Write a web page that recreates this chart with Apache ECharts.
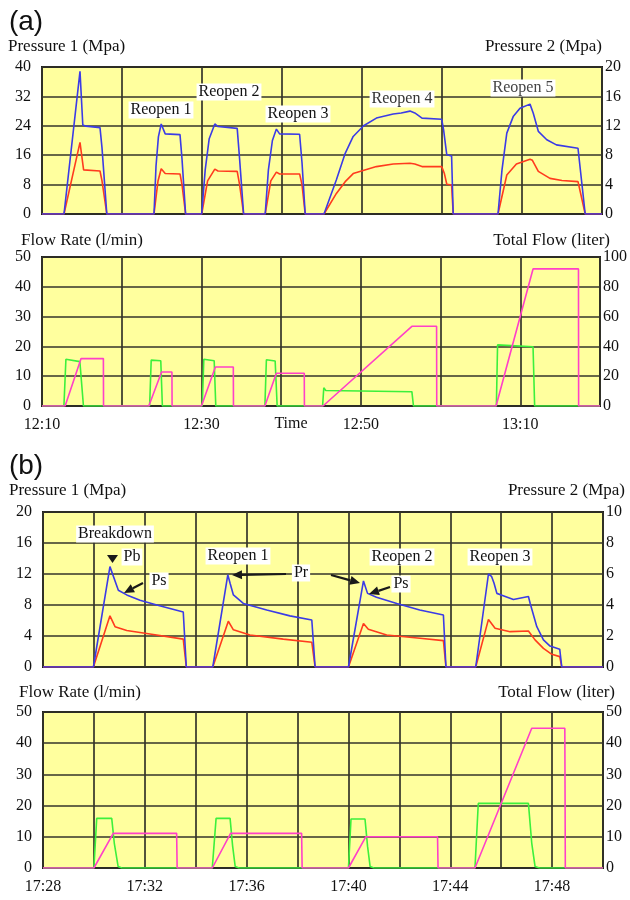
<!DOCTYPE html>
<html><head><meta charset="utf-8">
<script src="https://cdn.jsdelivr.net/npm/echarts@6/dist/echarts.min.js"></script>
<style>html,body{margin:0;padding:0;background:#fff}#c{width:630px;height:900px}</style>
</head><body><div id="c"></div>
<script>
// ---------- DATA (t = minutes from the first tick) ----------
// Panel (a) – time origin 12:10
const aTickMin = [0, 20, 40, 60];
const aTickText = ['12:10', '12:30', '12:50', '13:10'];
// Pressure 1 (blue, MPa, left axis)
const aPressure1 = [
[0,0],[2.75,0],[4.75,38.8],[5.1,24.2],[5.5,23.9],[7.25,23.5],[7.5,18],[8.1,0],
[14.0,0],[14.25,13],[14.55,21],[14.9,24.5],[15.4,21.8],[17.25,21.6],[17.5,15],[17.95,0],
[19.96,0],[20.4,12],[20.9,20.5],[21.6,24.5],[22.0,23.8],[24.4,23.3],[24.7,15],[25.2,0],
[27.9,0],[28.3,12],[28.8,20],[29.3,23.1],[29.7,21.8],[32.2,21.7],[32.5,14],[32.9,0],
[35.25,0],[36.8,9.3],[37.9,16.5],[38.9,21.1],[40.2,24],[41.8,26.1],[43.9,27.2],[44.9,27.5],[46,28],[46.6,27.5],[47.5,26.1],[49.96,25.8],[50.2,22.9],[50.6,16.1],[51.2,15.8],[51.4,0],
[57.0,0],[57.5,12],[58.1,22],[58.9,26.5],[59.75,28.8],[61,29.9],[61.4,27.5],[62.04,22.5],[63.1,20.2],[64.3,18.8],[67.0,17.9],[67.9,0],
[70,0]];
// Pressure 2 (red, MPa, right axis)
const aPressure2 = [
[0,0],[2.75,0],[4.75,9.75],[5.2,6.0],[7.25,5.85],[7.5,4.5],[8.1,0],
[14.0,0],[14.5,4.5],[14.9,6.15],[15.4,5.5],[17.25,5.45],[17.5,4],[17.95,0],
[19.96,0],[20.7,4.5],[21.6,6.1],[22.0,5.85],[24.4,5.8],[24.7,4],[25.2,0],
[27.9,0],[28.6,4.5],[29.3,5.7],[29.7,5.45],[32.2,5.45],[32.5,4],[32.9,0],
[35.25,0],[36.8,2.8],[37.9,4.4],[38.9,5.5],[41.8,6.45],[43.9,6.8],[46,6.9],[46.6,6.8],[47.5,6.45],[49.96,6.45],[50.3,5.5],[50.6,4.05],[51.2,3.95],[51.4,0],
[57.0,0],[58.1,5.3],[59.3,6.8],[61,7.45],[61.3,7.3],[62.04,5.8],[63.5,4.85],[65,4.55],[67.0,4.4],[67.9,0],
[70,0]];
// Flow rate (green, l/min, left axis)
const aFlowRate = [
[0,0],[2.75,0],[3.0,15.7],[4.75,14.9],[5.2,0],
[13.5,0],[13.7,15.4],[14.9,15.2],[15.1,0],
[20.1,0],[20.3,15.7],[21.6,15.2],[21.8,0],
[27.96,0],[28.15,15.5],[29.25,15.1],[29.5,0],
[35.2,0],[35.35,6.1],[35.6,5.2],[46.4,4.8],[46.6,0],
[57.0,0],[57.15,20.5],[61.6,19.9],[61.8,0],
[70,0]];
// Total flow (magenta, liter, right axis)
const aTotalFlow = [
[0,0],[2.9,0],[4.9,31.8],[7.7,31.8],[7.72,0],
[13.4,0],[15.0,22.8],[16.3,22.8],[16.32,0],
[20.0,0],[21.75,26.2],[24,26.2],[24.02,0],
[27.96,0],[29.4,22],[32.9,22],[32.92,0],
[35.25,0],[46.4,53.5],[49.5,53.5],[49.52,0],
[56.96,0],[61.6,92],[67.3,92],[67.32,0],
[70,0]];

// Panel (b) – time origin 17:28
const bTickMin = [0, 4, 8, 12, 16, 20];
const bTickText = ['17:28', '17:32', '17:36', '17:40', '17:44', '17:48'];
const bPressure1 = [
[0,0],[1.98,0],[2.63,12.95],[2.96,9.9],[3.29,9.3],[3.81,8.6],[4.47,8.0],[5.51,7.1],[5.63,0],
[6.67,0],[7.26,11.9],[7.35,10.8],[7.48,9.3],[7.87,8.2],[8.79,7.35],[9.7,6.6],[10.56,6.06],[10.69,0],
[12.0,0],[12.59,11.1],[12.75,9.5],[13.1,9.0],[13.9,8.2],[14.8,7.35],[15.73,6.7],[15.83,0],
[17.0,0],[17.5,12.0],[17.62,11.7],[17.72,10.8],[17.83,9.5],[18.0,9.3],[18.48,8.7],[19.07,9.1],[19.14,8.2],[19.4,5.2],[19.66,3.5],[19.92,2.7],[20.3,2.3],[20.38,0],
[22,0]];
const bPressure2 = [
[0,0],[1.98,0],[2.63,3.3],[2.83,2.6],[3.29,2.35],[4.2,2.13],[5.51,1.8],[5.63,0],
[6.67,0],[7.28,2.95],[7.48,2.4],[8.13,2.06],[9.44,1.8],[10.56,1.6],[10.69,0],
[12.0,0],[12.59,2.8],[12.78,2.43],[13.5,2.06],[14.81,1.85],[15.73,1.7],[15.83,0],
[17.0,0],[17.5,3.07],[17.76,2.5],[18.35,2.28],[19.07,2.32],[19.33,1.75],[19.66,1.2],[19.99,0.82],[20.3,0.67],[20.38,0],
[22,0]];
const bFlowRate = [
[0,0],[2.0,0],[2.11,15.9],[2.7,15.9],[2.8,8],[2.95,0.5],[3.1,0],
[6.65,0],[6.8,15.9],[7.35,15.9],[7.45,7],[7.55,0.5],[7.7,0],
[12.0,0],[12.1,15.7],[12.65,15.7],[12.75,7],[12.85,0.5],[13.0,0],
[16.97,0],[17.1,20.7],[19.07,20.7],[19.2,8],[19.33,0.5],[19.5,0],
[22,0]];
const bTotalFlow = [
[0,0],[2.0,0],[2.76,11.1],[5.25,11.1],[5.27,0],
[6.65,0],[7.37,11.1],[10.16,11.1],[10.18,0],
[12.0,0],[12.68,10.0],[15.5,10.0],[15.52,0],
[16.97,0],[19.2,44.8],[20.5,44.8],[20.52,0],
[22,0]];

// ---------- STYLE ----------
const SERIF = 'Liberation Serif';
const BLUE = '#3b3be6', RED = '#ff3b1e', GREEN = '#3cf03c', MAGENTA = '#ff40c8';
const BG = '#ffff9e';
const GRID_LINE = {show: true, lineStyle: {color: '#35352a', width: 1.7}};
const LBL = {fontFamily: SERIF, fontSize: 16, color: '#111'};

function xAx(gi, max, interval, ticks, texts) {
  return {type: 'value', gridIndex: gi, min: 0, max: max, interval: interval,
    axisLine: {show: false}, axisTick: {show: false}, splitLine: GRID_LINE,
    axisLabel: ticks ? Object.assign({margin: 11, showMinLabel: true, showMaxLabel: false, formatter: function (v) {
      const i = ticks.indexOf(Math.round(v * 1000) / 1000); return i >= 0 ? texts[i] : '';
    }}, LBL) : {show: false}};
}
function yAx(gi, max, interval, right) {
  return {type: 'value', gridIndex: gi, min: 0, max: max, interval: interval, position: right ? 'right' : 'left',
    axisLine: {show: false}, axisTick: {show: false}, splitLine: right ? {show: false} : GRID_LINE,
    axisLabel: Object.assign({margin: right ? 3 : 11}, LBL)};
}
function ln(name, data, xi, yi, color) {
  return {name: name, type: 'line', data: data, xAxisIndex: xi, yAxisIndex: yi, showSymbol: false, symbol: 'none',
    lineStyle: {color: color, width: 1.6}, itemStyle: {color: color}, animation: false, z: 5};
}
function txt(s, x, y, opt) {
  return {type: 'text', z: 100, style: Object.assign({text: s, x: x, y: y, fill: '#111', font: '16px "' + SERIF + '"',
    textAlign: 'center', textVerticalAlign: 'middle'}, opt || {})};
}
const TITLE = {font: '17px "' + SERIF + '"'};
function ttl(s, x, y, align) { return txt(s, x, y, Object.assign({textAlign: align}, TITLE)); }
function box(s, x, y, opt) {
  return txt(s, x, y, Object.assign({backgroundColor: '#fff', padding: [1, 2, 0, 2]}, opt || {}));
}
function arrow(x1, y1, x2, y2) {
  const a = Math.atan2(y2 - y1, x2 - x1), L = 10, W = 4.5;
  const bx = x2 - L * Math.cos(a), by = y2 - L * Math.sin(a);
  const px = -Math.sin(a) * W, py = Math.cos(a) * W;
  return [
    {type: 'line', z: 100, shape: {x1: x1, y1: y1, x2: bx, y2: by}, style: {stroke: '#1a1a1a', lineWidth: 2.2}},
    {type: 'polygon', z: 100, shape: {points: [[x2, y2], [bx + px, by + py], [bx - px, by - py]]}, style: {fill: '#1a1a1a'}}
  ];
}

const grids = [
  {left: 42, top: 67, width: 560, height: 147},
  {left: 42, top: 257, width: 560, height: 149},
  {left: 43, top: 512, width: 560, height: 155},
  {left: 43, top: 712, width: 560, height: 156}
].map(g => Object.assign({show: true, backgroundColor: BG, borderColor: '#1a1a1a', borderWidth: 2, containLabel: false}, g));

const graphic = [
  txt('(a)', 26, 22, {font: '28px "Liberation Sans"'}),
  ttl('Pressure 1 (Mpa)', 8, 47, 'left'),
  ttl('Pressure 2 (Mpa)', 602, 47, 'right'),
  ttl('Flow Rate (l/min)', 21, 241, 'left'),
  ttl('Total Flow (liter)', 610, 241, 'right'),
  txt('Time', 291, 424),
  box('Reopen 1', 161, 110),
  box('Reopen 2', 229, 92),
  box('Reopen 3', 298, 114),
  box('Reopen 4', 402, 99, {fill: '#333'}),
  box('Reopen 5', 523, 88, {fill: '#444'}),
  txt('(b)', 26, 466, {font: '28px "Liberation Sans"'}),
  ttl('Pressure 1 (Mpa)', 9, 491, 'left'),
  ttl('Pressure 2 (Mpa)', 625, 491, 'right'),
  ttl('Flow Rate (l/min)', 19, 693, 'left'),
  ttl('Total Flow (liter)', 615, 693, 'right'),
  box('Breakdown', 115, 534),
  {type: 'polygon', z: 100, shape: {points: [[107, 555], [118, 555], [112.5, 563]]}, style: {fill: '#1a1a1a'}},
  box('Pb', 132, 557),
  box('Ps', 159, 581),
  box('Reopen 1', 238, 556),
  box('Pr', 301, 573),
  box('Reopen 2', 402, 557),
  box('Ps', 401, 584),
  box('Reopen 3', 500, 557)
].concat(arrow(143, 583, 124, 593), arrow(286, 574, 232, 575), arrow(331, 575, 360, 583), arrow(390, 587, 369, 594));

const option = {
  backgroundColor: '#fff',
  animation: false,
  grid: grids,
  xAxis: [
    xAx(0, 70, 10, null, null),
    xAx(1, 70, 10, aTickMin, aTickText),
    xAx(2, 22, 2, null, null),
    xAx(3, 22, 2, bTickMin, bTickText)
  ],
  yAxis: [
    yAx(0, 40, 8, false), yAx(0, 20, 4, true),
    yAx(1, 50, 10, false), yAx(1, 100, 20, true),
    yAx(2, 20, 4, false), yAx(2, 10, 2, true),
    yAx(3, 50, 10, false), yAx(3, 50, 10, true)
  ],
  series: [
    ln('a Pressure 2', aPressure2, 0, 1, RED),
    ln('a Pressure 1', aPressure1, 0, 0, BLUE),
    ln('a Flow Rate', aFlowRate, 1, 2, GREEN),
    ln('a Total Flow', aTotalFlow, 1, 3, MAGENTA),
    ln('b Pressure 2', bPressure2, 2, 5, RED),
    ln('b Pressure 1', bPressure1, 2, 4, BLUE),
    ln('b Flow Rate', bFlowRate, 3, 6, GREEN),
    ln('b Total Flow', bTotalFlow, 3, 7, MAGENTA)
  ],
  graphic: graphic
};
const chart = echarts.init(document.getElementById('c'), null, {renderer: 'canvas'});
chart.setOption(option);
</script>
</body></html>
